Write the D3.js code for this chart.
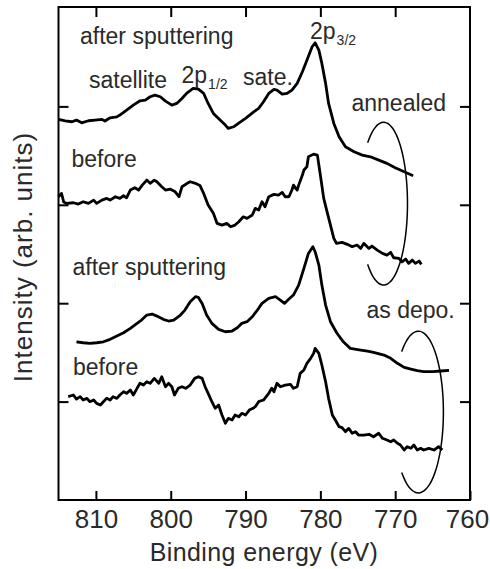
<!DOCTYPE html>
<html>
<head>
<meta charset="utf-8">
<script src="https://cdn.jsdelivr.net/npm/d3@7"></script>
<style>
body { margin: 0; background: #fff; }
text { font-family: "Liberation Sans", Arial, Helvetica, sans-serif; fill: #2a2a2a; }
</style>
</head>
<body>
<div id="chart"></div>
<script>
// binding energy (eV), intensity (arb. units, curves are offset)
var annealedSputtered = [[815.0,386.8],[814.1,385.4],[813.2,384.4],[812.6,386.1],[811.9,383.3],[811.0,385.4],[810.1,386.1],[809.2,386.8],[808.8,385.1],[808.1,388.4],[807.2,389.4],[806.8,391.2],[805.9,396.2],[805.0,401.3],[804.1,405.7],[803.4,406.4],[802.75,409.8],[802.1,411.5],[801.4,409.8],[800.7,405.4],[799.85,401.3],[799.2,403.0],[798.5,408.1],[797.8,413.8],[797.0,418.3],[796.3,417.6],[795.6,413.2],[795.0,403.0],[794.3,392.9],[793.4,386.1],[792.7,381.0],[792.3,377.6],[791.6,379.3],[791.1,382.0],[790.0,387.8],[788.9,394.5],[788.25,398.0],[787.6,404.7],[786.9,413.2],[786.2,417.3],[785.8,416.6],[785.1,412.5],[784.45,413.2],[783.8,416.6],[783.1,423.4],[782.4,435.2],[781.8,447.0],[781.1,460.6],[780.7,464.6],[780.2,457.2],[779.8,443.7],[779.3,423.4],[778.9,403.0],[778.2,382.7],[777.5,369.1],[776.65,359.0],[775.5,353.9],[774.4,350.5],[773.3,348.8],[772.2,345.4],[771.1,342.1],[770.0,337.6],[768.8,333.5],[767.6,329.5]];

var annealedBefore = [[815.0,308.2],[814.6,311.6],[814.3,302.8],[813.9,301.4],[813.0,302.1],[812.35,300.7],[811.7,303.1],[811.0,301.4],[810.3,304.8],[809.9,301.4],[809.2,304.8],[808.55,306.5],[808.1,304.8],[807.4,308.2],[806.8,306.5],[806.3,309.2],[805.9,307.1],[805.4,315.0],[804.8,317.3],[804.3,315.0],[803.8,320.0],[803.2,325.1],[802.75,321.8],[802.2,325.1],[801.85,323.4],[801.2,318.3],[800.7,315.0],[800.1,316.0],[799.4,313.2],[798.9,308.2],[798.5,318.3],[797.8,321.8],[797.4,323.4],[796.7,321.8],[796.1,319.7],[795.6,311.6],[795.0,299.7],[794.3,291.3],[793.8,281.1],[793.15,279.4],[792.5,281.1],[792.0,277.7],[791.4,279.4],[790.9,282.8],[790.3,287.8],[789.8,286.2],[789.1,289.6],[788.7,296.4],[788.25,294.6],[787.8,303.1],[787.4,298.0],[786.9,308.2],[786.2,310.6],[785.6,309.9],[785.1,312.6],[784.7,308.2],[784.2,308.2],[783.8,315.0],[783.6,320.0],[783.1,315.0],[782.9,320.0],[782.4,330.2],[782.2,335.3],[781.8,338.6],[781.6,348.8],[780.9,351.5],[780.4,350.5],[780.2,340.4],[780.0,330.2],[779.55,306.5],[779.1,292.9],[778.65,279.4],[778.2,265.9],[777.85,260.8],[777.1,261.8],[776.4,259.8],[775.75,257.4],[775.1,259.1],[774.6,255.7],[774.2,260.8],[773.5,255.7],[773.1,258.1],[772.4,254.0],[771.7,250.6],[771.1,248.9],[770.6,251.7],[770.2,246.2],[769.5,245.6],[769.1,242.1],[768.6,244.9],[768.2,240.5],[767.7,243.8],[767.3,240.5],[766.8,242.8],[766.5,239.5]];

var depoSputtered = [[812.6,160.8],[811.7,159.8],[810.8,159.2],[809.9,159.8],[809.0,160.8],[808.1,163.3],[807.2,166.6],[806.3,170.0],[805.4,174.4],[804.5,179.5],[803.9,182.9],[803.2,188.0],[802.5,189.0],[801.85,186.9],[801.0,183.6],[800.3,181.9],[799.6,182.9],[798.7,188.0],[798.1,193.0],[797.4,201.5],[796.7,206.6],[796.3,205.9],[795.8,199.8],[795.2,188.0],[794.5,179.5],[793.6,173.4],[792.7,171.0],[791.8,171.7],[791.1,175.1],[790.5,179.5],[789.8,181.2],[789.1,186.2],[788.25,194.8],[787.8,199.8],[786.9,204.9],[786.0,206.6],[785.35,203.2],[784.8,199.8],[784.2,204.2],[783.6,208.3],[782.9,218.4],[782.2,235.4],[781.6,250.6],[781.0,257.4],[780.7,252.3],[780.2,238.8],[779.8,218.4],[779.3,198.1],[778.65,181.2],[777.8,169.7],[776.9,160.5],[776.0,154.1],[774.6,152.4],[773.7,151.4],[772.9,150.1],[771.5,147.3],[770.6,144.0],[769.7,138.9],[768.8,134.8],[767.9,133.1],[767.05,131.4],[766.2,130.4],[765.0,130.4],[763.9,131.1],[762.8,131.8]];

var depoBefore = [[813.7,105.0],[813.0,106.7],[812.6,102.6],[812.1,105.0],[811.7,101.6],[811.2,103.3],[810.8,99.9],[810.3,101.6],[809.9,98.2],[809.4,96.5],[809.0,99.9],[808.55,103.3],[808.1,101.6],[807.7,105.0],[807.2,103.3],[806.8,106.7],[806.3,110.0],[805.9,108.4],[805.4,111.8],[805.0,106.7],[804.5,113.5],[804.1,118.6],[803.65,116.8],[803.2,120.2],[802.75,118.6],[802.2,123.6],[801.6,118.6],[801.2,125.3],[800.7,115.1],[800.3,118.6],[799.85,115.1],[799.5,106.7],[799.0,113.5],[798.5,115.1],[798.0,113.5],[797.4,116.8],[796.8,123.6],[796.3,125.3],[795.8,123.6],[795.4,115.1],[795.0,108.4],[794.5,99.9],[794.05,93.2],[793.6,96.5],[793.15,86.4],[792.7,77.9],[792.3,83.0],[791.8,81.3],[791.4,86.4],[790.9,84.6],[790.5,88.1],[790.0,86.4],[789.5,91.4],[789.0,93.2],[788.7,94.8],[788.25,99.9],[787.6,101.6],[786.9,108.4],[786.5,113.5],[786.2,110.0],[785.8,118.6],[785.35,115.1],[784.7,116.8],[784.0,117.6],[783.6,113.5],[783.1,115.1],[782.7,128.7],[782.2,132.1],[781.8,138.9],[781.3,144.0],[780.9,149.0],[780.7,154.1],[780.2,149.0],[779.8,137.2],[779.3,120.2],[778.9,103.3],[778.4,86.4],[778.0,81.3],[777.5,74.5],[777.1,73.5],[776.65,69.4],[776.2,72.8],[775.75,67.8],[775.3,69.4],[774.9,66.0],[774.2,66.0],[773.5,66.8],[772.9,64.3],[772.2,67.8],[771.7,62.7],[771.1,61.0],[770.6,59.2],[770.2,61.0],[769.7,57.6],[769.3,55.9],[768.8,50.8],[768.4,54.2],[767.9,52.5],[767.5,55.9],[767.05,50.8],[766.6,52.5],[766.2,50.8],[765.5,52.5],[764.8,50.8],[764.2,54.2],[763.7,50.8]];

var xTicks = [810, 800, 790, 780, 770, 760];
var yTicks = [100, 200, 300, 400];

// hand-drawn loops grouping each pair: [centre E, centre I, half-width eV, half-height]
var loops = [[771.55, 301.2, 3.2, 82.8], [766.9, 89.4, 3.35, 82.3]];

var labels = [
    {t: "after sputtering", x: 80, y: 44},
    {t: "satellite", x: 89, y: 88},
    {t: "sate.", x: 243, y: 85},
    {t: "before", x: 71.5, y: 166.5},
    {t: "annealed", x: 351.5, y: 111},
    {t: "after sputtering", x: 72.5, y: 275},
    {t: "before", x: 73, y: 375},
    {t: "as depo.", x: 366.5, y: 318}
];

var width = 490, height = 569;

var svg = d3.select("#chart").append("svg")
    .attr("width", width)
    .attr("height", height);

var x = d3.scaleLinear().domain([815, 760]).range([58.5, 470]);
var y = d3.scaleLinear().domain([0, 500]).range([500, 8]);

// axes, ticks pointing inward
var bottom = svg.append("g")
    .attr("transform", "translate(0,500)")
    .call(d3.axisBottom(x).tickValues(xTicks).tickSizeInner(-9).tickSizeOuter(0).tickPadding(10));
bottom.attr("font-size", 26).attr("font-family", null);
// last label sits on the window edge, nudge it in
bottom.selectAll(".tick text").filter(d => d === 760).attr("dx", -3);

svg.append("g")
    .attr("transform", "translate(0,7)")
    .call(d3.axisTop(x).tickValues(xTicks.slice(0, 5)).tickSizeInner(-10).tickSizeOuter(0).tickFormat(""));

svg.append("g")
    .attr("transform", "translate(58.5,0)")
    .call(d3.axisLeft(y).tickValues(yTicks).tickSizeInner(-10).tickSizeOuter(0).tickFormat(""));

svg.append("g")
    .attr("transform", "translate(470,0)")
    .call(d3.axisRight(y).tickValues(yTicks).tickSizeInner(-10).tickSizeOuter(0).tickFormat(""));

svg.selectAll(".domain").remove();
svg.selectAll(".tick line").attr("stroke", "#000").attr("stroke-width", 2);

svg.append("rect")
    .attr("x", 58.5).attr("y", 7)
    .attr("width", 470 - 58.5).attr("height", 493)
    .attr("fill", "none")
    .attr("stroke", "#000")
    .attr("stroke-width", 2);

var line = d3.line()
    .x(d => x(d[0]))
    .y(d => y(d[1]));

svg.selectAll("path.spectrum")
    .data([annealedSputtered, annealedBefore, depoSputtered, depoBefore])
    .enter().append("path")
    .attr("class", "spectrum")
    .attr("d", line)
    .attr("fill", "none")
    .attr("stroke", "#000")
    .attr("stroke-width", 2.8)
    .attr("stroke-linejoin", "round");

var loopLine = d3.line().curve(d3.curveBasis)
    .x(d => x(d[0]))
    .y(d => y(d[1]));

svg.selectAll("path.loop")
    .data(loops)
    .enter().append("path")
    .attr("class", "loop")
    .attr("d", l => loopLine(d3.range(-2.3, 2.31, 0.1).map(t => [l[0] - l[2] * Math.cos(t), l[1] - l[3] * Math.sin(t)])))
    .attr("fill", "none")
    .attr("stroke", "#000")
    .attr("stroke-width", 1.5);

svg.selectAll("text.note")
    .data(labels)
    .enter().append("text")
    .attr("class", "note")
    .attr("x", d => d.x)
    .attr("y", d => d.y)
    .attr("font-size", 23)
    .text(d => d.t);

// peak labels with subscripts
function peak(px, py, sub) {
    var t = svg.append("text").attr("x", px).attr("y", py).attr("font-size", 23);
    t.append("tspan").text("2p");
    t.append("tspan").attr("font-size", 14).attr("dy", 6).attr("dx", 1).text(sub);
}
peak(181.5, 83, "1/2");
peak(310, 39, "3/2");

svg.append("text")
    .attr("x", 264)
    .attr("y", 561)
    .attr("text-anchor", "middle")
    .attr("font-size", 25)
    .attr("letter-spacing", 0.4)
    .text("Binding energy (eV)");

svg.append("text")
    .attr("transform", "translate(32,257) rotate(-90)")
    .attr("text-anchor", "middle")
    .attr("font-size", 26)
    .attr("letter-spacing", 1)
    .text("Intensity (arb. units)");
</script>
</body>
</html>
